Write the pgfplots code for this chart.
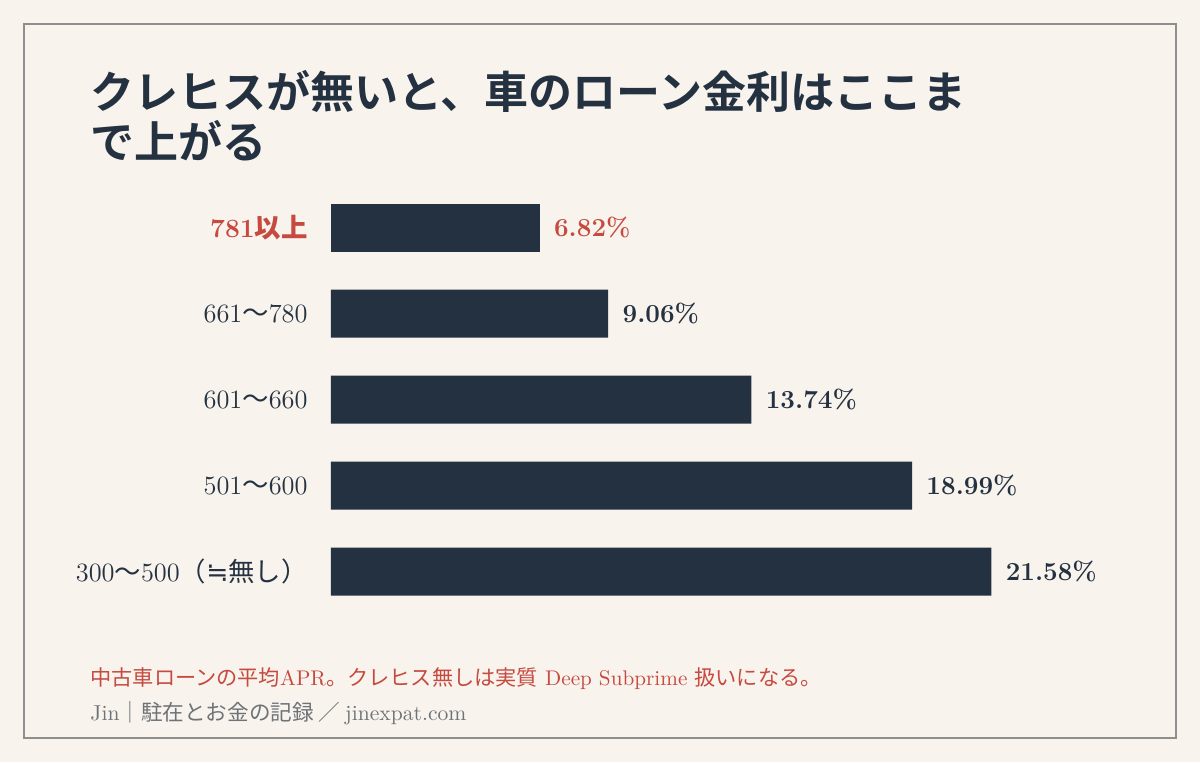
\documentclass[border=0pt]{standalone}
\usepackage{fontspec}
\usepackage{pgfplots}
\pgfplotsset{compat=1.18}
\newfontfamily\cjk{Noto Sans CJK JP}
\newfontfamily\cjkb{Noto Sans CJK JP Bold}
\newfontfamily\symfont{DejaVu Sans}

\definecolor{bgcream}{HTML}{F8F3EC}
\definecolor{barnavy}{HTML}{243140}
\definecolor{accentred}{HTML}{C64A40}
\definecolor{footgray}{HTML}{6E7379}
\definecolor{framegray}{HTML}{8E8E8E}

\begin{document}
\begin{tikzpicture}[x=0.5pt, y=0.5pt]
% background and frame (1 unit = 1 px of the reference, y up)
\fill[bgcream] (0,0) rectangle (1200,762);
\draw[framegray, line width=1pt] (24,24) rectangle (1176,738);

% title
\node[anchor=base west, inner sep=0pt, text=barnavy, font=\fontsize{22pt}{26pt}\cjkb]
  at (90,762-109) {クレヒスが無いと、車のローン金利はここま};
\node[anchor=base west, inner sep=0pt, text=barnavy, font=\fontsize{22pt}{26pt}\cjkb]
  at (90,762-159) {で上がる};

\begin{axis}[
  at={(165.5pt,73.75pt)}, anchor=south west,
  scale only axis, width=382.5pt, height=215pt,
  xbar, bar width=24pt,
  xmin=0, xmax=25,
  ymin=-0.5, ymax=4.5, y dir=reverse,
  axis lines*=left, axis line style={draw=none},
  xtick=\empty,
  ytick={0,1,2,3,4},
  yticklabels={
    {\color{accentred}\bfseries 781{\cjkb 以上}},
    661{\cjk ～}780,
    601{\cjk ～}660,
    501{\cjk ～}600,
    300{\cjk ～}500{\cjk （}{\symfont ≒}{\cjk 無し）}},
  major tick length=0pt,
  yticklabel style={inner sep=0pt, xshift=-11.5pt, text=barnavy,
    font=\fontsize{13.2pt}{16pt}\selectfont},
  nodes near coords={\pgfmathprintnumber[fixed, precision=2, fixed zerofill, assume math mode=true]{\pgfplotspointmeta}\%},
  nodes near coords style={anchor=west, inner sep=0pt, xshift=7pt,
    font=\fontsize{13pt}{16pt}\selectfont\bfseries},
  point meta=x,
  clip=false,
]
\addplot[fill=barnavy, draw=none, bar shift=0pt,
  nodes near coords style={text=accentred}] coordinates {(6.82,0)};
\addplot[fill=barnavy, draw=none, bar shift=0pt,
  nodes near coords style={text=barnavy}] coordinates {
(9.06,1) (13.74,2) (18.99,3) (21.58,4)
};
\end{axis}

% notes
\node[anchor=base west, inner sep=0pt, text=accentred, font=\fontsize{10.6pt}{12pt}\selectfont]
  at (90,762-685) {{\cjk 中古車ローンの平均}APR{\cjk 。クレヒス無しは実質} Deep Subprime {\cjk 扱いになる。}};
\node[anchor=base west, inner sep=0pt, text=footgray, font=\fontsize{10.8pt}{12pt}\selectfont]
  at (90,762-720) {Jin{\cjk ｜駐在とお金の記録 ／ }jinexpat.com};
\end{tikzpicture}
\end{document}
